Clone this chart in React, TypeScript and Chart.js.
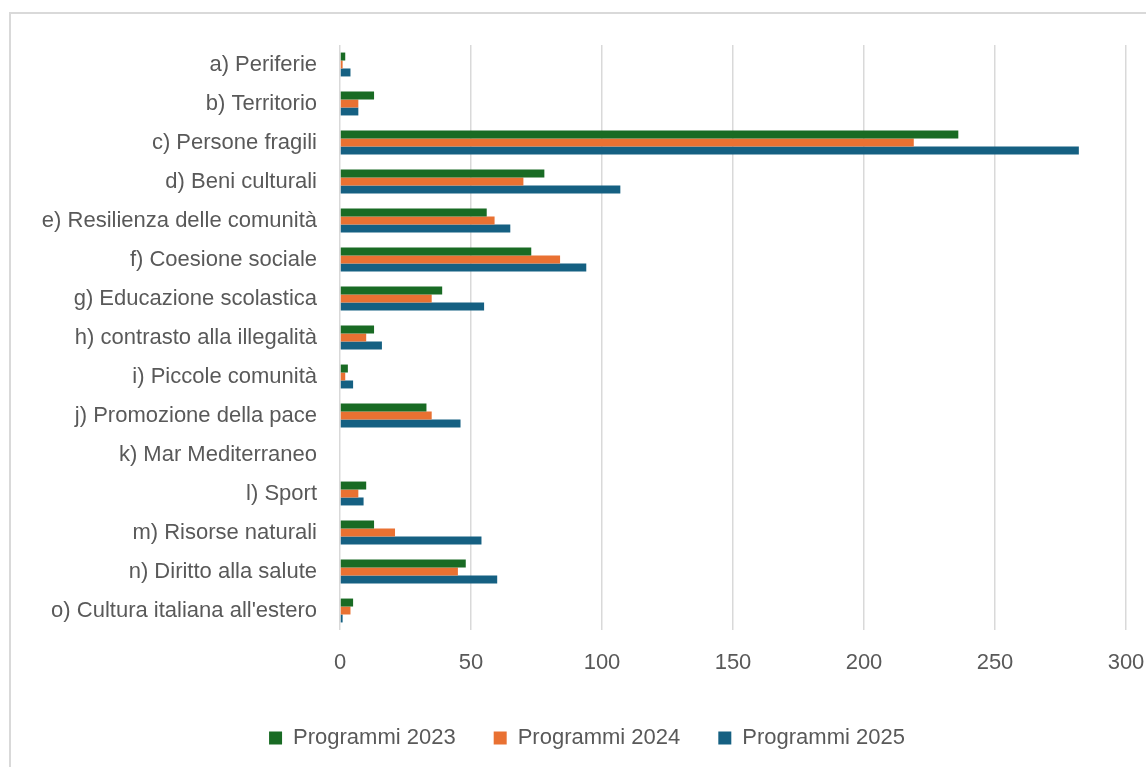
import React, { useEffect, useRef } from "react";
import { Chart, registerables } from "chart.js";

Chart.register(...registerables);

const categories = [
  "a) Periferie",
  "b) Territorio",
  "c) Persone fragili",
  "d) Beni culturali",
  "e) Resilienza delle comunità",
  "f) Coesione sociale",
  "g) Educazione scolastica",
  "h) contrasto alla illegalità",
  "i) Piccole comunità",
  "j) Promozione della pace",
  "k) Mar Mediterraneo",
  "l) Sport",
  "m) Risorse naturali",
  "n) Diritto alla salute",
  "o) Cultura italiana all'estero",
];

const programmi2023 = [2, 13, 236, 78, 56, 73, 39, 13, 3, 33, 0, 10, 13, 48, 5];
const programmi2024 = [1, 7, 219, 70, 59, 84, 35, 10, 2, 35, 0, 7, 21, 45, 4];
const programmi2025 = [4, 7, 282, 107, 65, 94, 55, 16, 5, 46, 0, 9, 54, 60, 1];

const seriesNames = ["Programmi 2023", "Programmi 2024", "Programmi 2025"];
const seriesColors = ["#196B24", "#E97132", "#156082"];

const xMin = 0;
const xMax = 300;
const xStep = 50;

const legendShift = {
  id: "legendShift",
  afterLayout(chart: any) {
    if (chart.legend) {
      chart.legend.left = 48;
    }
  },
};

export default function App() {
  const canvasRef = useRef<HTMLCanvasElement | null>(null);

  useEffect(() => {
    if (!canvasRef.current) return;
    const textColor = "#595959";
    const family = "'Liberation Sans', Arial, sans-serif";
    const chart = new Chart(canvasRef.current, {
      type: "bar",
      data: {
        labels: categories,
        datasets: [programmi2023, programmi2024, programmi2025].map((d, i) => ({
          label: seriesNames[i],
          data: d,
          backgroundColor: seriesColors[i],
          borderWidth: 0,
          categoryPercentage: 0.613,
          barPercentage: 1,
        })),
      },
      plugins: [legendShift],
      options: {
        indexAxis: "y",
        animation: false,
        responsive: false,
        maintainAspectRatio: false,
        layout: { padding: { top: 45, right: 20, bottom: 8, left: 0 } },
        plugins: {
          tooltip: { enabled: false },
          legend: {
            position: "bottom",
            labels: {
              color: textColor,
              font: { family, size: 22 },
              boxWidth: 13,
              boxHeight: 13,
              padding: 38,
            },
          },
        },
        scales: {
          x: {
            min: xMin,
            max: xMax,
            ticks: {
              stepSize: xStep,
              color: textColor,
              font: { family, size: 22 },
              padding: 20,
            },
            grid: { color: "#d9d9d9", lineWidth: 1.5, drawTicks: false },
            border: { display: false },
            afterFit: (scale: any) => {
              scale.height = 59;
              scale.paddingRight = 0;
              scale.paddingLeft = 0;
            },
          },
          y: {
            ticks: {
              color: textColor,
              font: { family, size: 22 },
              padding: 23,
              autoSkip: false,
            },
            grid: { display: false, drawTicks: false },
            border: { display: false },
            afterFit: (scale: any) => {
              scale.width = 340;
            },
          },
        },
      },
    });
    return () => chart.destroy();
  }, []);

  return (
    <div style={{ position: "absolute", left: 0, top: 0, width: 1146, height: 767, overflow: "hidden", background: "#fff" }}>
      <div
        style={{
          position: "absolute",
          left: 9,
          top: 12,
          width: 1200,
          height: 800,
          borderLeft: "2px solid #d9d9d9",
          borderTop: "2px solid #d9d9d9",
          boxSizing: "border-box",
        }}
      />
      <canvas ref={canvasRef} width={1146} height={767} style={{ position: "absolute", left: 0, top: 0 }} />
    </div>
  );
}
